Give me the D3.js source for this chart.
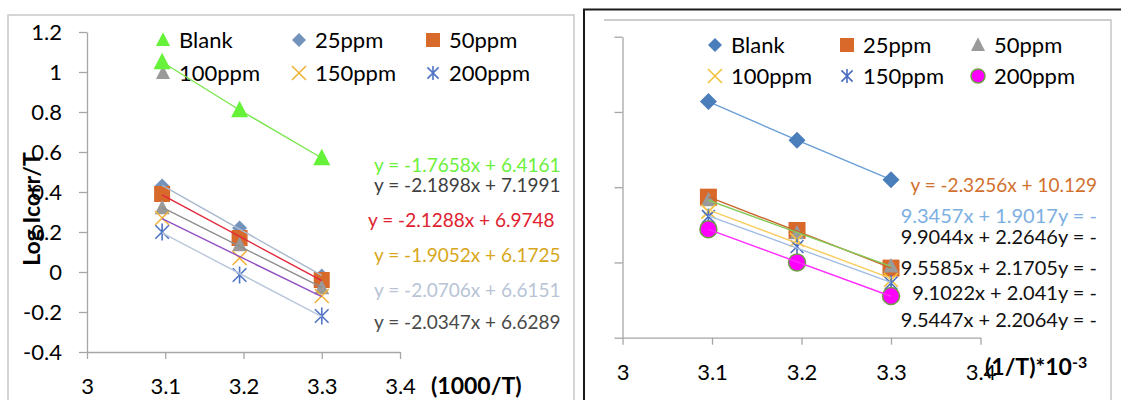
<!DOCTYPE html>
<html>
<head>
<meta charset="utf-8">
<script src="https://cdn.jsdelivr.net/npm/d3@7.9.0/dist/d3.min.js"></script>
<style>
  html, body { margin: 0; padding: 0; background: #fff; }
  svg { display: block; font-family: Lato, "Open Sans", sans-serif; }
  .axis path, .axis line { stroke: #a6a6a6; stroke-width: 1.3; }
  .axis text { font-size: 22px; fill: #000; font-family: Lato, sans-serif; }
</style>
</head>
<body>
<svg id="chart" width="1121" height="400"></svg>
<script>
// x positions (1000/T) shared by both plots
const xVals = [3.096, 3.195, 3.3];
const xTicks = [3, 3.1, 3.2, 3.3, 3.4];
const yTicksLeft = [-0.4, -0.2, 0, 0.2, 0.4, 0.6, 0.8, 1, 1.2];
const yTicksRight = [-0.4, 0, 0.4, 0.8, 1.2];
const seriesNames = ['Blank', '25ppm', '50ppm', '100ppm', '150ppm', '200ppm'];

// left plot values
const leftBlank = [1.05, 0.81, 0.57];
const left25 = [0.43, 0.22, -0.02];
const left50 = [0.39, 0.17, -0.04];
const left100 = [0.32, 0.135, -0.08];
const left150 = [0.27, 0.07, -0.12];
const left200 = [0.2, -0.015, -0.22];

// right plot values
const rightBlank = [0.855, 0.65, 0.44];
const right25 = [0.347, 0.17, -0.03];
const right50 = [0.332, 0.157, -0.02];
const right100 = [0.27, 0.12, -0.093];
const right150 = [0.244, 0.084, -0.11];
const right200 = [0.177, 0, -0.178];

const leftEquations = [
  'y = -1.7658x + 6.4161',
  'y = -2.1898x + 7.1991',
  'y = -2.1288x + 6.9748',
  'y = -1.9052x + 6.1725',
  'y = -2.0706x + 6.6151',
  'y = -2.0347x + 6.6289'
];
const rightEquations = [
  'y = -2.3256x + 10.129',
  '9.3457x + 1.9017y = -',
  '9.9044x + 2.2646y = -',
  '9.5585x + 2.1705y = -',
  '9.1022x + 2.041y = -',
  '9.5447x + 2.2064y = -'
];

const svg = d3.select('#chart');
svg.append('rect').attr('width', 1121).attr('height', 400).attr('fill', '#fff');

function markerPath(type, s) {
  const h = s / 2;
  if (type === 'triangle') return `M0,${-s * 0.55}L${h},${s * 0.42}L${-h},${s * 0.42}Z`;
  if (type === 'diamond') return `M0,${-h}L${h},0L0,${h}L${-h},0Z`;
  if (type === 'square') return `M${-h},${-h}H${h}V${h}H${-h}Z`;
  if (type === 'circle') return d3.symbol(d3.symbolCircle, Math.PI * h * h)();
  if (type === 'x') return `M${-h},${-h}L${h},${h}M${h},${-h}L${-h},${h}`;
  // star: x plus vertical bar
  const a = h * 0.8;
  return `M${-a},${-a}L${a},${a}M${a},${-a}L${-a},${a}M0,${-h}V${h}`;
}

function drawMarker(g, m, x, y, size) {
  const open = m.type === 'x' || m.type === 'star';
  g.append('path')
    .attr('transform', `translate(${x},${y})`)
    .attr('d', markerPath(m.type, size))
    .attr('fill', open ? 'none' : m.fill)
    .attr('stroke', open ? m.fill : (m.stroke || 'none'))
    .attr('stroke-width', open ? 1.6 : (m.stroke ? 1.5 : 0));
}

function fit(xs, ys) {
  const mx = d3.mean(xs), my = d3.mean(ys);
  const num = d3.sum(xs, (x, i) => (x - mx) * (ys[i] - my));
  const den = d3.sum(xs, x => (x - mx) * (x - mx));
  const b = num / den;
  return { b, a: my - b * mx };
}

function drawPanel(cfg) {
  const g = svg.append('g');
  const x = d3.scaleLinear().domain([3, 3.4]).range(cfg.xRange);
  const y = d3.scaleLinear().domain([-0.4, 1.2]).range(cfg.yRange);

  g.append('g').attr('class', 'axis')
    .attr('transform', `translate(0,${cfg.yRange[0]})`)
    .call(d3.axisBottom(x).tickValues(xTicks).tickSize(7).tickSizeOuter(0)
      .tickPadding(cfg.xPad).tickFormat(d => String(d)));

  g.append('g').attr('class', 'axis')
    .attr('transform', `translate(${cfg.xRange[0]},0)`)
    .call(d3.axisLeft(y).tickValues(cfg.yTicks).tickSize(8).tickSizeOuter(0)
      .tickPadding(17).tickFormat(cfg.yLabels ? (d => String(d)) : ''));

  // legend
  cfg.series.forEach((s, i) => {
    const lx = cfg.legendX[i % 3], ly = cfg.legendY[Math.floor(i / 3)];
    drawMarker(g, s, lx, ly, 14);
    g.append('text').attr('x', lx + 16).attr('y', ly).attr('dy', '0.36em')
      .attr('font-size', 22).attr('fill', '#000').text(seriesNames[i]);
  });

  // blank series line
  const blank = cfg.series[0];
  g.append('path')
    .attr('d', d3.line().x((d, i) => x(xVals[i])).y(d => y(d))(blank.values))
    .attr('fill', 'none').attr('stroke', blank.line).attr('stroke-width', 1.4);

  // markers
  cfg.series.forEach(s => {
    s.values.forEach((v, i) => drawMarker(g, s, x(xVals[i]), y(v), s.size));
  });

  // trend lines
  cfg.series.slice(1).forEach(s => {
    const f = fit(xVals, s.values);
    const x0 = xVals[0], x1 = xVals[xVals.length - 1];
    g.append('line')
      .attr('x1', x(x0)).attr('y1', y(f.a + f.b * x0))
      .attr('x2', x(x1)).attr('y2', y(f.a + f.b * x1))
      .attr('stroke', s.line).attr('stroke-width', 1.4);
  });

  // equation labels
  cfg.equations.forEach((t, i) => {
    g.append('text').attr('x', cfg.eqX[i]).attr('y', cfg.eqY[i]).attr('dy', '0.36em')
      .attr('text-anchor', cfg.eqAnchor).attr('font-size', cfg.eqSize[i])
      .attr('fill', cfg.eqColor[i]).text(t);
  });
  return g;
}

// left panel frame
svg.append('path').attr('d', 'M8,400V15H574V400')
  .attr('fill', 'none').attr('stroke', '#c8c8c8').attr('stroke-width', 1.5);

const left = drawPanel({
  xRange: [87, 400], yRange: [352, 32], yTicks: yTicksLeft, yLabels: true, xPad: 19,
  legendX: [163, 299, 433], legendY: [40, 73],
  series: [
    { values: leftBlank, type: 'triangle', fill: '#66f238', line: '#7ae64e', size: 17 },
    { values: left25, type: 'diamond', fill: '#7393bd', line: '#a9b9cf', size: 15 },
    { values: left50, type: 'square', fill: '#d7692b', line: '#e0283a', size: 16 },
    { values: left100, type: 'triangle', fill: '#9a9a9a', line: '#8e8e8e', size: 15 },
    { values: left150, type: 'x', fill: '#efb43a', line: '#9250c2', size: 14 },
    { values: left200, type: 'star', fill: '#4f74c4', line: '#b9c7db', size: 17 }
  ],
  equations: leftEquations,
  eqX: [374, 374, 368, 374, 374, 374], eqY: [165, 185, 220, 255, 290, 322],
  eqAnchor: 'start', eqSize: [19, 19, 19, 19, 19, 19],
  eqColor: ['#6cf03c', '#404040', '#e0202e', '#d8a71c', '#b8c4d6', '#4a4a4a']
});

left.append('text').attr('x', 431).attr('y', 386).attr('dy', '0.36em')
  .attr('font-size', 23).attr('font-weight', 'bold').text('(1000/T)');
left.append('text').attr('transform', 'translate(32,209) rotate(-90)')
  .attr('text-anchor', 'middle').attr('dy', '0.36em')
  .attr('font-size', 23).attr('font-weight', 'bold').text('Log Icorr/T');

// right panel frames
svg.append('path').attr('d', 'M584,400V9.5H1121')
  .attr('fill', 'none').attr('stroke', '#1a1a1a').attr('stroke-width', 2);
svg.append('path').attr('d', 'M604,20H1111V400')
  .attr('fill', 'none').attr('stroke', '#bdbdbd').attr('stroke-width', 1.3);

const right = drawPanel({
  xRange: [622.5, 980.5], yRange: [337.7, 36.7], yTicks: yTicksRight, yLabels: false, xPad: 20,
  legendX: [715, 847, 978], legendY: [45, 76],
  series: [
    { values: rightBlank, type: 'diamond', fill: '#4a7ebb', line: '#6a9fd6', size: 17 },
    { values: right25, type: 'square', fill: '#d8692a', line: '#c8652a', size: 17 },
    { values: right50, type: 'triangle', fill: '#9a9a9a', line: '#86c95a', size: 15 },
    { values: right100, type: 'x', fill: '#f3c23c', line: '#f8cc5a', size: 14 },
    { values: right150, type: 'star', fill: '#4a6dc0', line: '#a3bce4', size: 16 },
    { values: right200, type: 'circle', fill: '#ff00ff', stroke: '#6f9e44', line: '#ff2cff', size: 17 }
  ],
  equations: rightEquations,
  eqX: [1097, 1097, 1097, 1097, 1097, 1097], eqY: [185, 216, 237, 268, 293, 320],
  eqAnchor: 'end', eqSize: [19, 20, 20, 20, 20, 20],
  eqColor: ['#d2702e', '#7cb0e2', '#111', '#111', '#111', '#111']
});

const rt = right.append('text').attr('x', 985).attr('y', 367).attr('dy', '0.36em')
  .attr('font-size', 23).attr('font-weight', 'bold');
rt.append('tspan').text('(1/T)*10');
rt.append('tspan').attr('dy', '-0.45em').attr('font-size', 16).text('-3');
</script>
</body>
</html>
